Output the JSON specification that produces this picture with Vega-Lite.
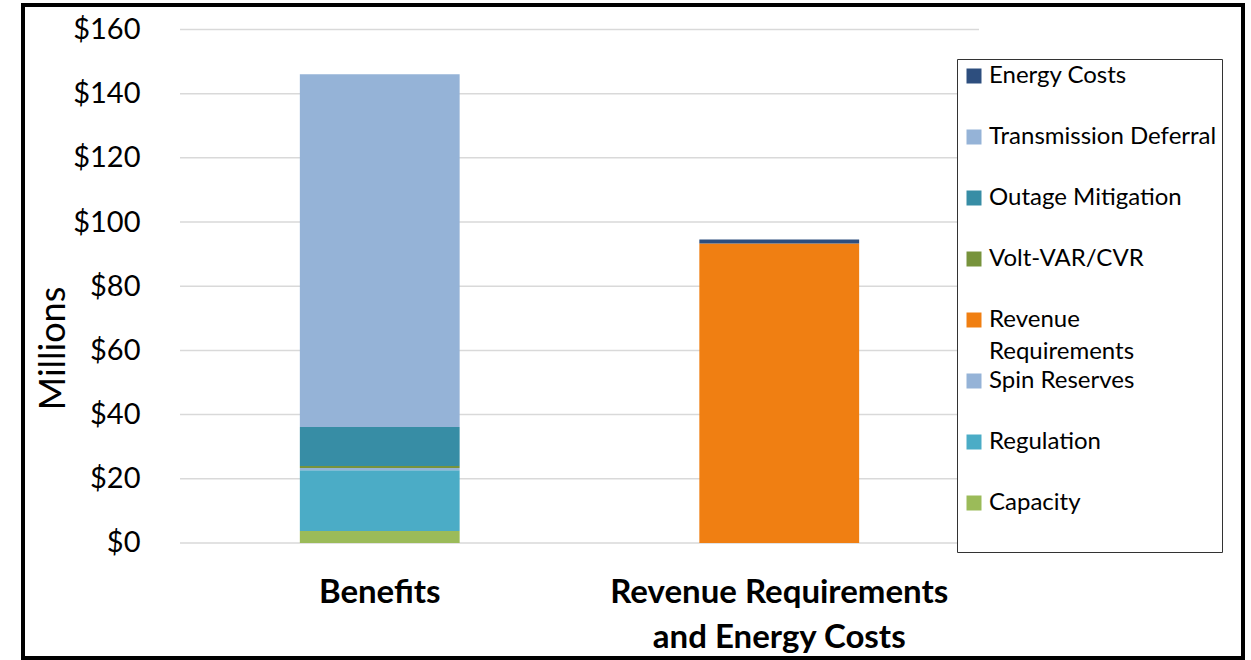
{
  "$schema": "https://vega.github.io/schema/vega-lite/v6.json",
  "width": 1220,
  "height": 653,
  "autosize": {"type": "none"},
  "padding": {"left": 23, "top": 5, "right": 8, "bottom": 2},
  "background": "white",
  "config": {
    "view": {"stroke": "#000000", "strokeWidth": 4},
    "font": "Lato",
    "style": {"guide-label": {"lineHeight": 32}}
  },
  "datasets": {
    "grid": [{"g": 0}, {"g": 20}, {"g": 40}, {"g": 60}, {"g": 80}, {"g": 100}, {"g": 120}, {"g": 140}, {"g": 160}],
    "bars": [
      {"cat": "Benefits", "series": "Capacity", "value": 3.7, "ord": 1},
      {"cat": "Benefits", "series": "Regulation", "value": 19.0, "ord": 2},
      {"cat": "Benefits", "series": "Spin Reserves", "value": 0.7, "ord": 3},
      {"cat": "Benefits", "series": "Volt-VAR/CVR", "value": 0.55, "ord": 5},
      {"cat": "Benefits", "series": "Outage Mitigation", "value": 12.2, "ord": 6},
      {"cat": "Benefits", "series": "Transmission Deferral", "value": 109.9, "ord": 7},
      {"cat": "Revenue Requirements and Energy Costs", "series": "Revenue Requirements", "value": 93.3, "ord": 4},
      {"cat": "Revenue Requirements and Energy Costs", "series": "Energy Costs", "value": 1.3, "ord": 8}
    ]
  },
  "layer": [
    {
      "data": {"name": "grid"},
      "mark": {"type": "rule", "color": "#d9d9d9", "strokeWidth": 1.5},
      "encoding": {
        "y": {"field": "g", "type": "quantitative",
              "scale": {"domain": [-35.84, 167.63], "nice": false, "zero": false}},
        "x": {"datum": "Benefits", "type": "nominal", "bandPosition": 0,
              "scale": {"domain": ["Benefits", "Revenue Requirements and Energy Costs"], "paddingInner": 0, "paddingOuter": 0.5269, "align": 0.3729}},
        "x2": {"datum": "Revenue Requirements and Energy Costs", "bandPosition": 1}
      }
    },
    {
      "data": {"name": "bars"},
      "mark": {"type": "bar", "width": {"band": 0.4}},
      "encoding": {
        "x": {"field": "cat", "type": "nominal",
              "scale": {"domain": ["Benefits", "Revenue Requirements and Energy Costs"], "paddingInner": 0, "paddingOuter": 0.5269, "align": 0.3729},
              "axis": {
                "orient": "bottom", "offset": -115, "domain": false, "ticks": false, "title": null,
                "labelAngle": 0, "labelAlign": "center", "bandPosition": 0.5,
                "labelFont": "Lato", "labelFontSize": 33, "labelFontWeight": "bold",
                "labelColor": "#000000", "labelBaseline": "top", "labelPadding": 33, "labelLineHeight": 45,
                "labelLimit": 600,
                "labelExpr": "datum.value == 'Benefits' ? 'Benefits' : ['Revenue Requirements', 'and Energy Costs']"
              }},
        "y": {"field": "value", "type": "quantitative", "stack": "zero",
              "scale": {"domain": [-35.84, 167.63], "nice": false, "zero": false},
              "axis": {
                "values": [0, 20, 40, 60, 80, 100, 120, 140, 160], "format": "$.0f",
                "grid": false, "domain": false, "ticks": false, "offset": -121, "labelPadding": 4,
                "labelFont": "Lato", "labelFontSize": 29, "labelColor": "#000000", "labelOverlap": false,
                "title": "Millions", "titleFont": "Lato", "titleFontSize": 36, "titleFontWeight": "normal",
                "titleColor": "#000000", "titleX": -80, "titleY": 343, "titleBaseline": "alphabetic", "titleAngle": 270
              }},
        "color": {"field": "series", "type": "nominal",
                  "scale": {
                    "domain": ["Energy Costs", "Transmission Deferral", "Outage Mitigation", "Volt-VAR/CVR", "Revenue Requirements", "Spin Reserves", "Regulation", "Capacity"],
                    "range": ["#2d4e7e", "#95b3d7", "#378da5", "#77933c", "#f07f12", "#95b3d7", "#4bacc6", "#9bbb59"]
                  },
                  "legend": {
                    "orient": "none", "legendX": 934, "legendY": 54, "title": null,
                    "padding": 5, "strokeColor": "#333333", "fillColor": "#ffffff",
                    "symbolType": "square", "symbolSize": 225, "symbolStrokeWidth": 0,
                    "labelFont": "Lato", "labelFontSize": 24, "labelColor": "#000000", "labelOffset": 3,
                    "labelLimit": 300, "rowPadding": 5,
                    "labelExpr": "datum.label == 'Revenue Requirements' ? ['Revenue', 'Requirements'] : [datum.label, ' ']"
                  }},
        "order": {"field": "ord", "type": "quantitative"}
      }
    }
  ]
}
